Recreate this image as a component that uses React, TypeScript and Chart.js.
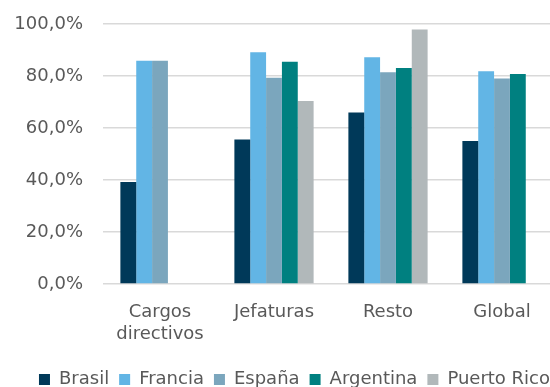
import React, { useEffect, useRef } from 'react';
import { Chart, registerables } from 'chart.js';

Chart.register(...registerables);

const categories: (string | string[])[] = [['Cargos', 'directivos'], 'Jefaturas', 'Resto', 'Global'];
const seriesNames = ['Brasil', 'Francia', 'España', 'Argentina', 'Puerto Rico'];
const brasil = [39.2, 55.6, 66.0, 55.0];
const francia = [85.9, 89.1, 87.2, 81.8];
const espana = [85.9, 79.3, 81.4, 79.0];
const argentina = [null, 85.5, 83.1, 80.8];
const puertoRico = [null, 70.4, 97.9, null];
const seriesColors = ['#003959', '#62B5E5', '#7BA6BD', '#008080', '#B1B8BA'];
const yMin = 0;
const yMax = 100;
const yStep = 20;

const legendShift = {
  id: 'legendShift',
  afterLayout(chart: any) {
    const l = chart.legend;
    if (!l) return;
    l.left += 15;
    l.right += 15;
    l.top += 11.5;
    l.bottom += 11.5;
  },
};

export default function App() {
  const ref = useRef<HTMLCanvasElement | null>(null);
  useEffect(() => {
    if (!ref.current) return;
    const allSeries = [brasil, francia, espana, argentina, puertoRico];
    const font = { family: 'DejaVu Sans', size: 18 };
    Chart.defaults.font.family = 'DejaVu Sans';
    const chart = new Chart(ref.current, {
      type: 'bar',
      data: {
        labels: categories,
        datasets: seriesNames.map((name, i) => ({
          label: name,
          data: allSeries[i],
          backgroundColor: seriesColors[i],
          borderWidth: 0,
          categoryPercentage: 0.695,
          barPercentage: 1.0,
        })),
      },
      options: {
        responsive: false,
        animation: false,
        events: [],
        layout: { padding: { top: 24, right: 1, left: 0, bottom: 0 } },
        plugins: {
          legend: {
            position: 'bottom',
            labels: {
              font,
              color: '#595959',
              boxWidth: 11,
              boxHeight: 11,
              padding: 10,
            },
          },
          tooltip: { enabled: false },
        },
        scales: {
          x: {
            grid: { display: false, drawTicks: false },
            border: { display: false },
            ticks: { font: { ...font, lineHeight: 1.22 }, color: '#595959', padding: 17, maxRotation: 0, autoSkip: false },
            afterFit: (s: any) => { s.height = 65; },
          },
          y: {
            min: yMin,
            max: yMax,
            grid: { color: '#D9D9D9', lineWidth: 1.5, drawTicks: false },
            border: { display: false },
            ticks: {
              stepSize: yStep,
              font,
              color: '#595959',
              padding: 20,
              callback: (v: any) => Number(v).toFixed(1).replace('.', ',') + '%',
            },
            afterFit: (s: any) => { s.width = 103; s.paddingTop = 0; s.paddingBottom = 0; },
          },
        },
      },
      plugins: [legendShift],
    } as any);
    return () => chart.destroy();
  }, []);
  return (
    <div style={{ position: 'fixed', left: 0, top: 0, width: 550, height: 387, overflow: 'hidden', background: '#fff' }}>
      <canvas ref={ref} width={560} height={387} style={{ width: 560, height: 387, display: 'block' }} />
    </div>
  );
}
